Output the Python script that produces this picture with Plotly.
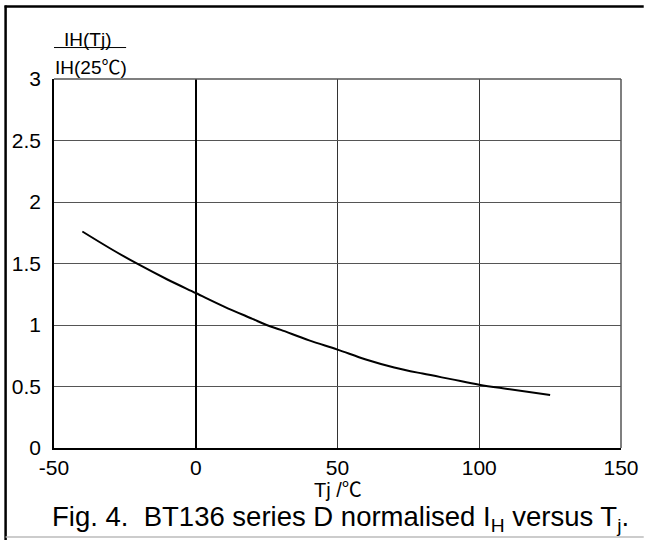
import plotly.graph_objects as go

# Data
tj = [-40, -30, -20, -10, 0, 10, 20, 25, 30, 40, 50, 60, 70, 80, 90, 100, 110, 125]
ih_ratio = [1.76, 1.62, 1.49, 1.37, 1.26, 1.15, 1.05, 1.00, 0.96, 0.875, 0.80,
            0.72, 0.655, 0.605, 0.56, 0.515, 0.48, 0.43]

x_ticks = [-50, 0, 50, 100, 150]
x_ticktext = ["-50", "0", "50", "100", "150"]
y_ticks = [0, 0.5, 1, 1.5, 2, 2.5, 3]
y_ticktext = ["0", "0.5", "1", "1.5", "2", "2.5", "3"]

FONT = "Liberation Sans, Arial, sans-serif"
DEGC = "<span style='font-family:Noto Sans CJK SC'>℃</span>"

W, H = 651, 540
L, R, T, B = 54, 23, 78.5, 92
PW, PH = W - L - R, H - T - B


def px(xp):
    return (xp - L) / PW


def py(yp):
    return (H - B - yp) / PH


fig = go.Figure()
fig.add_trace(go.Scatter(x=tj, y=ih_ratio, mode="lines",
                         line=dict(color="black", width=2),
                         line_shape="spline", showlegend=False))

fig.update_layout(
    width=W, height=H, autosize=False,
    margin=dict(l=L, r=R, t=T, b=B, pad=0),
    paper_bgcolor="white", plot_bgcolor="white",
    font=dict(family=FONT, size=21, color="black"),
    xaxis=dict(range=[-50, 150], tickvals=x_ticks, ticktext=x_ticktext,
               showgrid=True, gridcolor="#333333", gridwidth=1,
               zeroline=True, zerolinecolor="black", zerolinewidth=1.5,
               showline=True, linecolor="black", linewidth=1.5,
               ticks="", ticklabelstandoff=0, fixedrange=True),
    yaxis=dict(range=[0, 3], tickvals=y_ticks, ticktext=y_ticktext,
               showgrid=True, gridcolor="#555555", gridwidth=1,
               zeroline=False,
               showline=True, linecolor="black", linewidth=1.5,
               ticks="", ticklabelstandoff=7, fixedrange=True),
)

# plot frame top / right (gray)
fig.add_shape(type="line", xref="paper", yref="paper", x0=0, x1=1, y0=1, y1=1,
              line=dict(color="#555555", width=1.5))
fig.add_shape(type="line", xref="paper", yref="paper", x0=1, x1=1, y0=0, y1=1,
              line=dict(color="#555555", width=1.5))

# x-axis title
fig.add_annotation(text="Tj /" + DEGC, xref="paper", yref="paper",
                   x=px(342), y=py(489), xanchor="center", yanchor="middle",
                   showarrow=False, font=dict(size=20))

# y-axis title as a fraction
fig.add_annotation(text="IH(Tj)", xref="paper", yref="paper",
                   x=px(62), y=py(39), xanchor="left", yanchor="middle",
                   showarrow=False, font=dict(size=19))
fig.add_annotation(text="IH(25" + DEGC + ")", xref="paper", yref="paper",
                   x=px(53), y=py(65), xanchor="left", yanchor="middle",
                   showarrow=False, font=dict(size=19))
fig.add_shape(type="line", xref="paper", yref="paper",
              x0=px(54), x1=px(127), y0=py(47), y1=py(47),
              line=dict(color="black", width=1))

# Caption
fig.add_annotation(text="Fig. 4.  BT136 series D normalised I<sub>H</sub> versus T<sub>j</sub>.",
                   xref="paper", yref="paper", x=px(344), y=py(519),
                   xanchor="center", yanchor="middle", showarrow=False,
                   font=dict(size=27.5))

# Outer frame
fig.add_shape(type="line", xref="paper", yref="paper",
              x0=px(5), x1=px(5), y0=py(5), y1=py(540),
              line=dict(color="black", width=2.5))
fig.add_shape(type="line", xref="paper", yref="paper",
              x0=px(4), x1=px(651), y0=py(6), y1=py(6),
              line=dict(color="black", width=2.5))
fig.add_shape(type="line", xref="paper", yref="paper",
              x0=px(5), x1=px(651), y0=py(537), y1=py(537),
              line=dict(color="#bbbbbb", width=1.5))

fig.write_html("out.html", config={"displayModeBar": False},
               post_script="document.body.style.margin='0px';document.body.style.overflow='hidden';")
